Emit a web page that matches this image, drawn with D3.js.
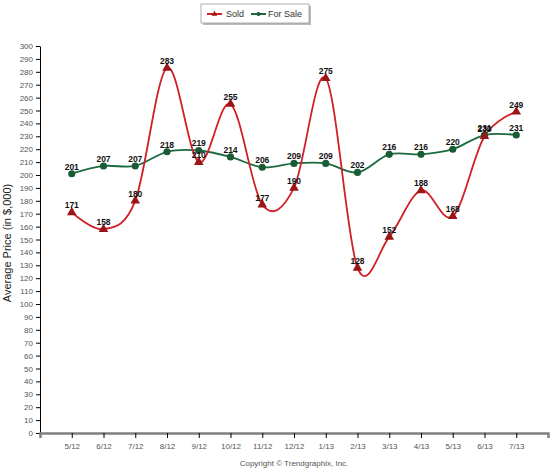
<!DOCTYPE html>
<html>
<head>
<meta charset="utf-8">
<script src="https://cdn.jsdelivr.net/npm/d3@7"></script>
<style>
  body { margin: 0; background: #fff; }
  svg { display: block; font-family: "Liberation Sans", Arial, sans-serif; }
</style>
</head>
<body>
<div id="chart"></div>
<script>
// --- data ---
const months = ['5/12', '6/12', '7/12', '8/12', '9/12', '10/12', '11/12', '12/12',
                '1/13', '2/13', '3/13', '4/13', '5/13', '6/13', '7/13'];
const sold = [171, 158, 180, 283, 210, 255, 177, 190, 275, 128, 152, 188, 168, 230, 249];
const forSale = [201, 207, 207, 218, 219, 214, 206, 209, 209, 202, 216, 216, 220, 231, 231];
const yTicks = d3.range(0, 301, 10);

const width = 552, height = 475;
const plotLeft = 40, plotRight = 548, plotTop = 46, plotBottom = 433;

const svg = d3.select('#chart').append('svg')
    .attr('width', width)
    .attr('height', height);

const x = d3.scalePoint().domain(months).range([plotLeft, plotRight]).padding(1);
const y = d3.scaleLinear().domain([0, 300]).range([plotBottom, plotTop]);

// y axis
const yAxis = svg.append('g')
    .attr('transform', `translate(${plotLeft},0)`)
    .call(d3.axisLeft(y).tickValues(yTicks).tickSize(4).tickSizeOuter(0).tickPadding(3));
yAxis.select('.domain').attr('stroke', '#000');
yAxis.selectAll('.tick line').attr('stroke', '#000');
yAxis.selectAll('.tick text').attr('fill', '#555').style('font-size', '8px');

// x axis
const xAxis = svg.append('g')
    .attr('transform', `translate(0,${plotBottom})`)
    .call(d3.axisBottom(x).tickSize(5).tickSizeOuter(5).tickPadding(5));
xAxis.select('.domain').attr('stroke', '#808080').attr('stroke-width', 2.5);
xAxis.selectAll('.tick line').attr('stroke', '#000');
xAxis.selectAll('.tick text').attr('fill', '#555').style('font-size', '8px');

// y title
svg.append('text')
    .attr('transform', `translate(11,243) rotate(-90)`)
    .attr('text-anchor', 'middle')
    .style('font-size', '11px')
    .attr('fill', '#222')
    .text('Average Price (in $,000)');

// copyright
svg.append('text')
    .attr('x', (plotLeft + plotRight) / 2)
    .attr('y', 466)
    .attr('text-anchor', 'middle')
    .style('font-size', '8px')
    .attr('fill', '#555')
    .text('Copyright © Trendgraphix, Inc.');

// --- series ---
const series = [
    { name: 'For Sale', values: forSale, line: '#1c6a3e', marker: '#1a5a35', shape: d3.symbolCircle, size: 40 },
    { name: 'Sold', values: sold, line: '#d11f26', marker: '#9a1418', shape: d3.symbolTriangle, size: 40 }
];

const line = d3.line()
    .x((d, i) => x(months[i]))
    .y(d => y(d))
    .curve(d3.curveCardinal.tension(0));

series.forEach(s => {
    svg.append('path')
        .datum(s.values)
        .attr('fill', 'none')
        .attr('stroke', s.line)
        .attr('stroke-width', 1.8)
        .attr('d', line);
});

series.forEach(s => {
    const g = svg.append('g');
    g.selectAll('path')
        .data(s.values)
        .join('path')
        .attr('transform', (d, i) => `translate(${x(months[i])},${y(d)})`)
        .attr('d', d3.symbol().type(s.shape).size(s.size))
        .attr('fill', s.marker);
    g.selectAll('text')
        .data(s.values)
        .join('text')
        .attr('x', (d, i) => x(months[i]))
        .attr('y', d => y(d) - 4)
        .attr('text-anchor', 'middle')
        .style('font-size', '8.5px')
        .style('font-weight', 'bold')
        .attr('fill', '#111')
        .text(d => d);
});

// --- legend ---
const legend = svg.append('g');
legend.append('rect')
    .attr('x', 203).attr('y', 6).attr('width', 108).attr('height', 19)
    .attr('fill', '#bbb');
legend.append('rect')
    .attr('x', 201).attr('y', 4).attr('width', 108).attr('height', 19)
    .attr('fill', '#fff').attr('stroke', '#999').attr('stroke-width', 0.8);

const legendItems = [
    { label: 'Sold', s: series[1], x0: 207, tx: 226 },
    { label: 'For Sale', s: series[0], x0: 251, tx: 268 }
];
legendItems.forEach(it => {
    legend.append('line')
        .attr('x1', it.x0).attr('x2', it.x0 + 15)
        .attr('y1', 14).attr('y2', 14)
        .attr('stroke', it.s.line).attr('stroke-width', 2);
    legend.append('path')
        .attr('transform', `translate(${it.x0 + 7.5},14)`)
        .attr('d', d3.symbol().type(it.s.shape).size(14))
        .attr('fill', it.s.marker);
    legend.append('text')
        .attr('x', it.tx).attr('y', 17)
        .style('font-size', '9px')
        .attr('fill', '#333')
        .text(it.label);
});
</script>
</body>
</html>
